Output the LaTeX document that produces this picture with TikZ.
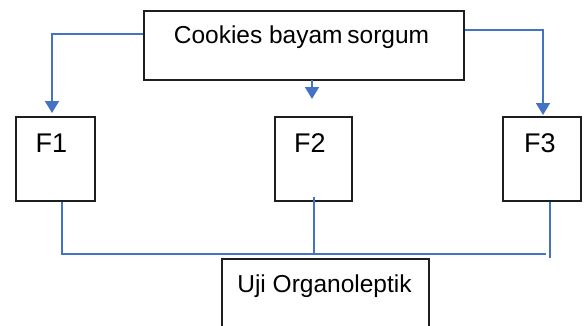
\documentclass[tikz,border=0pt]{standalone}
\usepackage{fontspec}
\setmainfont{Liberation Sans}
\usetikzlibrary{arrows.meta,calc}
\definecolor{lineblue}{RGB}{68,114,196}
\definecolor{boxline}{RGB}{30,30,30}
\begin{document}
\begin{tikzpicture}[x=1pt,y=-1pt,
  box/.style={draw=boxline,line width=1.8pt,rectangle,inner sep=0pt},
  lbl/.style={inner sep=0pt,anchor=base},
  conn/.style={draw=lineblue,line width=1.6pt},
  arr/.style={conn,-{Triangle[width=14pt,length=12pt]}}]
\useasboundingbox (0,0) rectangle (587,325);
\clip (0,0) rectangle (587,325);
% boxes
\node[box,minimum width=320pt,minimum height=69pt] (top) at (304,45.5) {};
\node[box,minimum width=79pt,minimum height=84pt] (f1) at (55.5,159) {};
\node[box,minimum width=77pt,minimum height=84pt] (f2) at (313.5,159) {};
\node[box,minimum width=78pt,minimum height=84pt] (f3) at (542,159) {};
\node[box,minimum width=207pt,minimum height=90pt] (uji) at (325.5,304) {};
% labels
\node[lbl,font=\fontsize{24.5}{28}\selectfont] (ttop) at (301.5,43) {Cookies bayam\hspace{-2pt} sorgum};
\node[lbl,font=\fontsize{27}{30}\selectfont] (t1) at (51.5,152) {F1};
\node[lbl,font=\fontsize{27}{30}\selectfont] (t2) at (310,152) {F2};
\node[lbl,font=\fontsize{27}{30}\selectfont] (t3) at (540,152) {F3};
\node[lbl,font=\fontsize{24.5}{28}\selectfont] (tuji) at (324.5,292) {Uji Organoleptik};
% arrows
\coordinate (a1) at (52,113);
\coordinate (a2s) at (312,80);
\coordinate (a2) at (312,99);
\coordinate (a3) at (543,115);
\draw[arr] (top.west |- 0,34) -| (a1);
\draw[arr] (a2s) -- (a2);
\draw[arr] (top.east |- 0,30) -| (a3);
% bottom connectors
\coordinate (j1) at (62,254);
\coordinate (jend) at (546,254);
\coordinate (j2) at (314,254);
\coordinate (j3) at (550,258);
\draw[conn] (f1.south -| j1) -- (j1) -- (jend);
\draw[conn] (314,197) -- (j2);
\draw[conn] (f3.south -| j3) -- (j3);
\end{tikzpicture}
\end{document}
